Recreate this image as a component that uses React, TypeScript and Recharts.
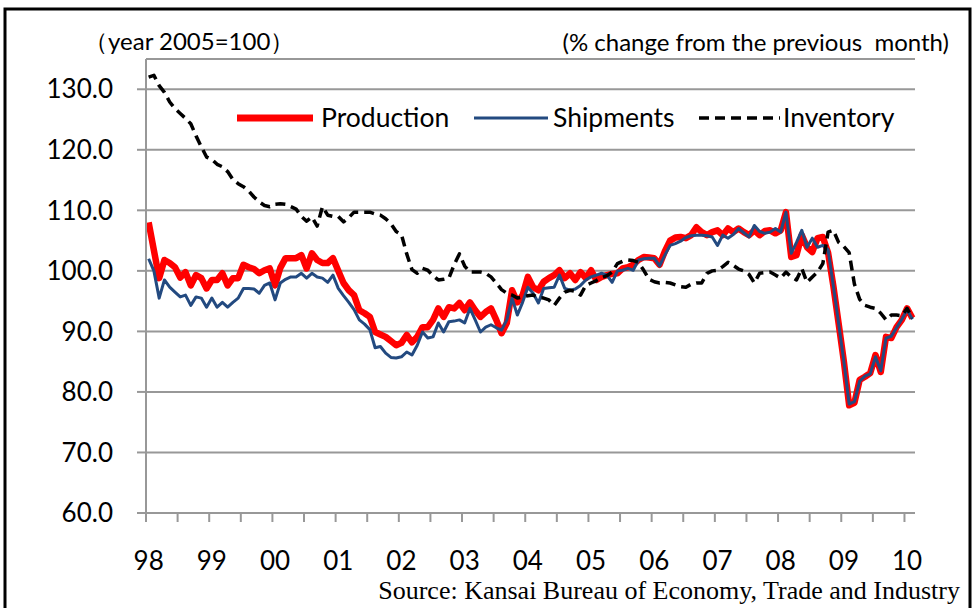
import { LineChart, Line, XAxis, YAxis, CartesianGrid } from "recharts";

// monthly, Jan 1998 .. Feb 2010
const years = ["98", "99", "00", "01", "02", "03", "04", "05", "06", "07", "08", "09", "10"];

const production = [
  108.0, 103.4, 98.8, 101.8, 101.3, 100.6, 98.9, 99.8, 97.6, 99.3, 98.8, 97.1,
  98.5, 98.5, 99.6, 97.6, 98.8, 98.8, 101.0, 100.6, 100.3, 99.6, 100.1, 100.4,
  97.6, 100.5, 102.1, 102.1, 102.1, 102.6, 100.4, 102.9, 101.8, 101.3, 101.3, 102.1,
  100.0, 98.0, 96.8, 96.0, 93.5, 93.0, 92.4, 89.9, 89.5, 89.1, 88.4, 87.7,
  88.1, 89.4, 88.2, 89.1, 90.7, 90.7, 91.9, 93.8, 92.4, 94.0, 93.8, 94.7,
  93.5, 94.8, 93.5, 92.4, 93.2, 93.8, 91.9, 89.7, 91.4, 96.8, 94.8, 96.0,
  99.0, 97.3, 96.8, 98.2, 98.8, 99.3, 100.1, 98.8, 99.6, 98.5, 99.8, 98.8,
  100.1, 98.5, 99.0, 99.3, 99.5, 99.6, 100.4, 100.6, 101.0, 101.8, 102.3, 102.2,
  102.1, 101.0, 103.2, 105.0, 105.5, 105.6, 105.4, 105.9, 107.2, 106.4, 105.9, 106.4,
  106.7, 105.9, 107.0, 106.4, 107.0, 106.4, 105.9, 106.7, 105.9, 106.6, 106.7, 106.2,
  106.7, 109.7, 102.3, 102.6, 105.9, 103.9, 103.1, 105.4, 105.6, 103.0, 97.5, 91.3,
  85.0, 77.8, 78.2, 82.0, 82.5, 83.1, 86.1, 83.3, 89.1, 88.9, 90.7, 91.9,
  93.8, 92.2,
];

const shipments = [
  102.0, 100.0, 95.5, 98.5, 97.3, 96.5, 95.7, 96.0, 94.3, 95.7, 95.5, 94.0,
  95.5, 94.0, 94.8, 94.0, 94.8, 95.5, 97.1, 97.1, 97.0, 96.3, 97.6, 98.0,
  95.2, 98.0, 98.6, 99.0, 99.0, 99.6, 98.8, 99.6, 99.0, 98.8, 98.1, 99.3,
  97.1, 95.9, 94.8, 93.6, 91.9, 91.2, 90.3, 87.3, 87.5, 86.4, 85.7, 85.6,
  85.8, 86.6, 86.1, 87.7, 89.9, 88.9, 89.1, 91.4, 89.9, 91.6, 91.7, 91.9,
  91.4, 93.8, 91.9, 89.9, 90.7, 91.1, 90.6, 90.2, 91.9, 95.5, 92.7, 94.8,
  97.3, 96.3, 94.7, 97.1, 97.2, 97.3, 99.3, 97.1, 96.8, 97.0, 97.6, 98.5,
  99.0, 99.3, 99.6, 99.3, 98.1, 100.0, 100.1, 100.4, 100.1, 101.8, 102.0, 102.1,
  102.1, 100.8, 102.6, 104.2, 104.5, 104.9, 105.5, 105.8, 105.9, 105.9, 105.8, 105.6,
  104.2, 105.9, 105.4, 106.0, 107.0, 106.3, 105.6, 107.5, 106.5, 106.2, 106.4, 107.0,
  106.4, 109.7, 102.9, 104.7, 106.7, 103.9, 105.4, 103.9, 104.2, 103.5, 97.5, 91.3,
  85.0, 78.0, 78.4, 81.8, 82.6, 83.0, 85.8, 83.5, 88.9, 89.2, 90.6, 92.0,
  93.6, 92.0,
];

const inventory = [
  132.0, 132.3, 130.6, 129.5, 127.9, 126.8, 126.0, 125.2, 124.3, 122.3, 120.5, 118.8,
  118.4, 117.6, 117.2, 116.4, 115.1, 114.4, 113.9, 113.2, 112.2, 111.4, 110.8, 110.6,
  111.0, 111.1, 111.0, 110.6, 110.2, 109.0, 108.2, 108.9, 107.4, 110.6, 109.2, 109.0,
  109.0, 108.1, 108.8, 109.7, 109.7, 109.7, 109.7, 109.4, 109.2, 108.6, 107.8, 106.5,
  106.0, 102.8, 100.2, 99.6, 100.4, 100.1, 99.2, 98.5, 98.6, 98.8, 101.0, 102.8,
  100.8, 99.8, 99.8, 99.8, 99.6, 99.0, 98.0, 96.9, 96.3, 96.0, 95.5, 95.7,
  95.9, 96.0, 95.6, 95.5, 95.2, 94.3, 95.5, 96.5, 96.8, 96.6, 96.0, 97.6,
  98.0, 98.4, 98.9, 99.2, 99.8, 101.2, 101.6, 101.8, 101.7, 101.4, 100.1, 98.6,
  98.2, 98.0, 98.1, 98.0, 97.7, 97.4, 97.3, 97.8, 98.0, 98.0, 99.6, 100.0,
  100.1, 100.7, 101.4, 100.9, 100.3, 100.0, 99.4, 98.0, 99.6, 99.7, 99.8, 99.3,
  98.8, 99.8, 99.0, 98.5, 100.4, 98.1, 99.0, 99.8, 101.2, 106.4, 106.7, 104.7,
  104.0, 103.0, 97.8, 95.3, 94.3, 94.0, 93.8, 93.0, 91.9, 92.7, 92.7, 92.6,
  93.8, 92.2,
];

const yTicks = [60, 70, 80, 90, 100, 110, 120, 130];

const series = [
  { key: "production", name: "Production", color: "#ff0000", width: 6.5, dash: undefined },
  { key: "shipments", name: "Shipments", color: "#234a80", width: 3, dash: undefined },
  { key: "inventory", name: "Inventory", color: "#000000", width: 3.5, dash: "10 6" },
];

const N = production.length;
const data = production.map((p, i) => ({
  t: i + 0.5,
  month: `${1998 + Math.floor(i / 12)}-${String((i % 12) + 1).padStart(2, "0")}`,
  production: p,
  shipments: shipments[i],
  inventory: inventory[i],
}));

const xTicks: number[] = [];
for (let m = 0; m <= N - 2; m += 6) xTicks.push(m);

const W = 973;
const H = 608;
const PLOT_LEFT = 146;
const PLOT_RIGHT = 915;
const HALF = (PLOT_RIGHT - PLOT_LEFT) / N / 2;
const FONT = "Lato, 'Open Sans', sans-serif";
const GRID = "#989898";

const XTick = (props: any) => {
  const { x, y, payload } = props;
  const v = payload.value;
  if (v % 12 !== 0) return <g />;
  return (
    <text x={x + HALF} y={y + 46} textAnchor="middle" fontFamily={FONT} fontSize={26} fill="#000">
      {years[v / 12]}
    </text>
  );
};

const legendItems = [
  { x: 237, len: 76, tx: 321 },
  { x: 474, len: 74, tx: 553 },
  { x: 699, len: 81, tx: 783 },
];

const App = () => (
  <div style={{ position: "absolute", left: 0, top: 0, width: W, height: H, overflow: "hidden", background: "#fff" }}>
    <LineChart width={W} height={H} data={data} margin={{ top: 59, right: W - PLOT_RIGHT, bottom: 0, left: 0 }}>
      <CartesianGrid vertical={false} stroke={GRID} strokeWidth={2} />
      <XAxis
        type="number"
        dataKey="t"
        domain={[0, N]}
        ticks={xTicks}
        interval={0}
        height={95}
        tickSize={9}
        axisLine={{ stroke: GRID, strokeWidth: 2 }}
        tickLine={{ stroke: GRID, strokeWidth: 2 }}
        tick={<XTick />}
      />
      <YAxis
        domain={[60, 135]}
        ticks={yTicks}
        interval={0}
        width={PLOT_LEFT}
        tickSize={9}
        tickMargin={24}
        axisLine={{ stroke: GRID, strokeWidth: 2 }}
        tickLine={{ stroke: GRID, strokeWidth: 2 }}
        tick={{ fill: "#000", fontSize: 26, fontFamily: FONT }}
        tickFormatter={(v: number) => v.toFixed(1)}
      />
      {series.map((s) => (
        <Line
          key={s.key}
          type="linear"
          dataKey={s.key}
          name={s.name}
          stroke={s.color}
          strokeWidth={s.width}
          strokeDasharray={s.dash}
          strokeLinejoin="round"
          dot={false}
          activeDot={false}
          isAnimationActive={false}
        />
      ))}
    </LineChart>
    <svg width={W} height={H} style={{ position: "absolute", left: 0, top: 0, pointerEvents: "none" }}>
      <rect x={5} y={9} width={965} height={700} fill="none" stroke="#000" strokeWidth={3} />
      <text x={84} y={50} fontFamily={FONT} fontSize={24} fill="#000">（year 2005=100）</text>
      <text x={949} y={51} textAnchor="end" fontFamily={FONT} fontSize={24} fill="#000" style={{ whiteSpace: "pre" }}>
        {"(% change from the previous  month)"}
      </text>
      {series.map((s, i) => (
        <g key={s.key}>
          <line
            x1={legendItems[i].x}
            x2={legendItems[i].x + legendItems[i].len}
            y1={118}
            y2={118}
            stroke={s.color}
            strokeWidth={s.key === "production" ? 7 : s.width}
            strokeDasharray={s.dash}
          />
          <text x={legendItems[i].tx} y={127} fontFamily={FONT} fontSize={26.5} fill="#000">
            {s.name}
          </text>
        </g>
      ))}
      <text x={960} y={599} textAnchor="end" fontFamily="'Liberation Serif', serif" fontSize={26} fill="#000">
        Source: Kansai Bureau of Economy, Trade and Industry
      </text>
    </svg>
  </div>
);

export default App;
